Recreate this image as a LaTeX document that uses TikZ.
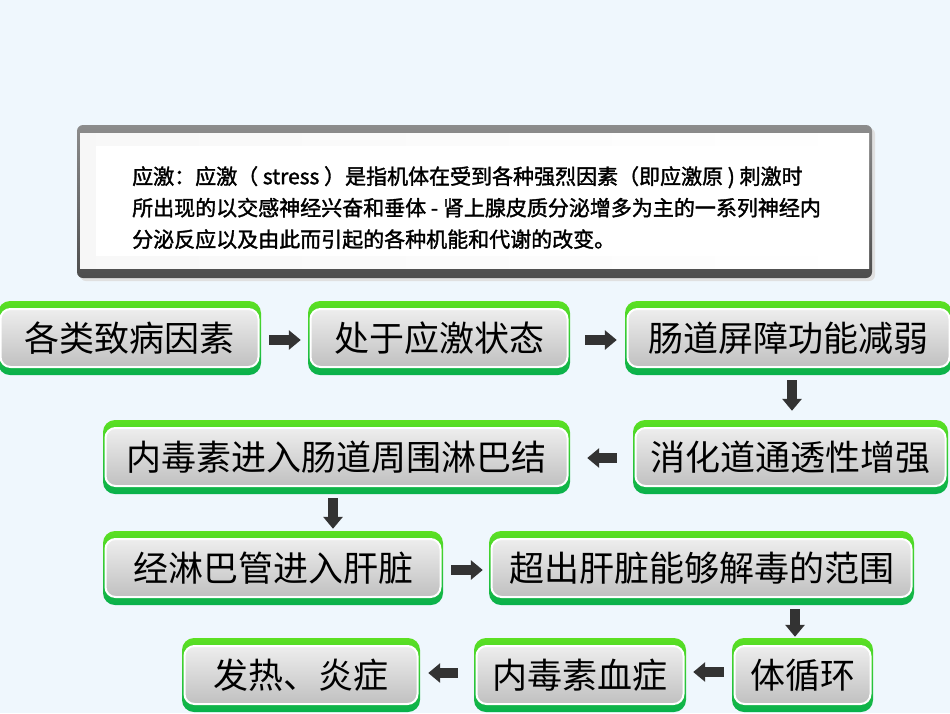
\documentclass[tikz,border=0pt]{standalone}
\usepackage{fontspec}
\setmainfont{Noto Sans CJK SC}
\newfontfamily\deffont{Noto Sans CJK SC}[FakeBold=1.6]
\usetikzlibrary{arrows.meta,calc}
\definecolor{bg}{HTML}{EFF7FD}
\definecolor{gtop}{HTML}{5CE022}
\definecolor{gbot}{HTML}{08B04C}
\definecolor{itop}{HTML}{F4F4F4}
\definecolor{ibot}{HTML}{BABABA}
\definecolor{arrc}{HTML}{333333}
\definecolor{frtop}{HTML}{8C8C8C}
\definecolor{frbot}{HTML}{4D4D4D}
\newcommand\mkgbox[6]{%
  \node[gbox, minimum width={#4-#2}, minimum height={#5-#3}] (#1) at ({(#2+#4)/2},{(#3+#5)/2}) {#6};}
\begin{document}
\begin{tikzpicture}[x=1pt,y=-1pt,
  gbox/.style={rounded corners=12pt, top color=gtop, bottom color=gbot, inner sep=0pt,
    font=\fontsize{35}{40}\selectfont, text=black,
    path picture={\shade[top color=itop, bottom color=ibot, draw=white, line width=2pt, rounded corners=10pt]
      ([shift={(2.5pt,8pt)}]path picture bounding box.south west) rectangle
      ([shift={(-2.5pt,-8pt)}]path picture bounding box.north east);}},
  arrw/.style={draw=arrc, line width=9.5pt, line cap=butt, -{Triangle[length=12pt,width=19pt]}}]
\useasboundingbox (0,0) rectangle (950,713);
\fill[bg] (0,0) rectangle (950,713);
% definition frame
\fill[black!12, rounded corners=6pt] (80,128) rectangle (875,281);
\shade[rounded corners=6pt, top color=frtop, bottom color=frbot] (77,125) rectangle (872,278);
\shade[left color=black!3, right color=white] (80,133) rectangle (869,268);
\fill[white] (96,146) rectangle (853,256);
\node[font=\deffont\fontsize{21}{31.5}\selectfont, align=left, anchor=north west, inner sep=0pt] (def) at (132,166)
 {应激：应激（ stress ）是指机体在受到各种强烈因素（即应激原 ) 刺激时\\
  所出现的以交感神经兴奋和垂体 - 肾上腺皮质分泌增多为主的一系列神经内\\
  分泌反应以及由此而引起的各种机能和代谢的改变。};
% boxes
\mkgbox{b1}{-2}{301}{261}{375}{各类致病因素}
\mkgbox{b2}{308}{301}{570}{375}{处于应激状态}
\mkgbox{b3}{625}{301}{952}{375}{肠道屏障功能减弱}
\mkgbox{b5}{633}{420}{948}{494}{消化道通透性增强}
\mkgbox{b4}{103}{420}{570}{494}{内毒素进入肠道周围淋巴结}
\mkgbox{b6}{103}{531}{443}{605}{经淋巴管进入肝脏}
\mkgbox{b7}{489}{531}{914}{605}{超出肝脏能够解毒的范围}
\mkgbox{b8}{732}{638}{873}{712}{体循环}
\mkgbox{b9}{474}{638}{686}{712}{内毒素血症}
\mkgbox{b10}{182}{638}{420}{712}{发热、炎症}
% arrows
\draw[arrw] ($(b1.east)+(8pt,-2pt)$) -- ($(b2.west)+(-7pt,-2pt)$);
\draw[arrw] ($(b2.east)+(15pt,-2pt)$) -- ($(b3.west)+(-8pt,-2pt)$);
\draw[arrw] ($(b3.south)+(3.5pt,-5pt)$) -- ($(b3.south |- b5.north)+(3.5pt,9pt)$);
\draw[arrw] ($(b5.west)+(-16pt,-1pt)$) -- ($(b4.east)+(17pt,-1pt)$);
\draw[arrw] ($(b4.south)+(-3.5pt,-4pt)$) -- ($(b4.south |- b6.north)+(-3.5pt,2pt)$);
\draw[arrw] ($(b6.east)+(8pt,-2pt)$) -- ($(b7.west)+(-6pt,-2pt)$);
\draw[arrw] ($(b8.north |- b7.south)+(-7.5pt,-4pt)$) -- ($(b8.north)+(-7.5pt,1pt)$);
\draw[arrw] ($(b8.west)+(-8pt,3pt)$) -- ($(b9.east)+(7pt,3pt)$);
\draw[arrw] ($(b9.west)+(-16pt,2pt)$) -- ($(b10.east)+(8pt,2pt)$);
\end{tikzpicture}
\end{document}
